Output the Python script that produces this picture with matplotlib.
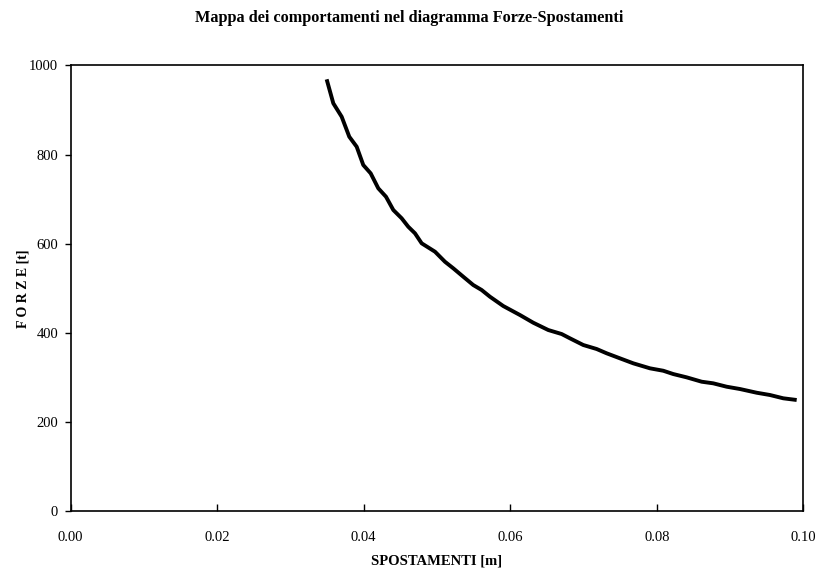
import matplotlib
matplotlib.use('Agg')
from matplotlib import pyplot as plt

# displacement [m] and force [t] along the curve
spostamenti = [0.03494, 0.03585, 0.03699, 0.03803, 0.03904, 0.03994, 0.04095, 0.04199,
               0.04304, 0.04404, 0.04518, 0.04608, 0.04700, 0.04791, 0.04973, 0.05109,
               0.05223, 0.05359, 0.05495, 0.05610, 0.05723, 0.05905, 0.06133, 0.06314,
               0.06519, 0.06702, 0.06815, 0.06997, 0.07180, 0.07316, 0.07498, 0.07680,
               0.07908, 0.08089, 0.08225, 0.08408, 0.08613, 0.08771, 0.08954, 0.09136,
               0.09364, 0.09545, 0.09727, 0.09910]
forze = [968.6, 914.8, 884.8, 839.9, 817.5, 776.5, 757.8, 724.2,
         705.4, 675.6, 657.0, 638.1, 623.3, 600.9, 582.1, 559.6,
         544.8, 526.0, 507.4, 496.2, 481.2, 460.3, 440.1, 422.9,
         406.5, 397.5, 387.9, 372.9, 363.9, 354.3, 343.0, 331.8,
         320.6, 315.2, 307.8, 300.4, 290.6, 287.0, 279.4, 274.2,
         265.9, 260.8, 253.4, 249.6]

x_ticks = [0.00, 0.02, 0.04, 0.06, 0.08, 0.10]
y_ticks = [0, 200, 400, 600, 800, 1000]

plt.rcParams['font.family'] = ['Liberation Serif', 'DejaVu Serif']

fig = plt.figure(figsize=(8.18, 5.74), dpi=100)
ax = fig.add_axes([0.0864, 0.1092, 0.8956, 0.777])

ax.plot(spostamenti, forze, color='black', linewidth=2.8, solid_capstyle='butt')

ax.set_xlim(0, 0.10)
ax.set_ylim(0, 1000)
ax.set_xticks(x_ticks)
ax.set_xticklabels(['%.2f' % v for v in x_ticks])
ax.set_yticks(y_ticks)
ax.tick_params(axis='x', direction='in', length=5, width=1, labelsize=10.5, pad=14)
ax.tick_params(axis='y', direction='out', length=4, width=1, labelsize=10.5, pad=5)
for s in ax.spines.values():
    s.set_linewidth(1.2)

ax.set_xlabel('SPOSTAMENTI [m]', fontsize=10.5, fontweight='bold', labelpad=8)
ax.set_ylabel('F O R Z E [t]', fontsize=10, fontweight='bold', labelpad=0)
fig.suptitle('Mappa dei comportamenti nel diagramma Forze-Spostamenti',
             fontsize=11.7, fontweight='bold', y=0.982)

plt.savefig('out.png', dpi=100)
